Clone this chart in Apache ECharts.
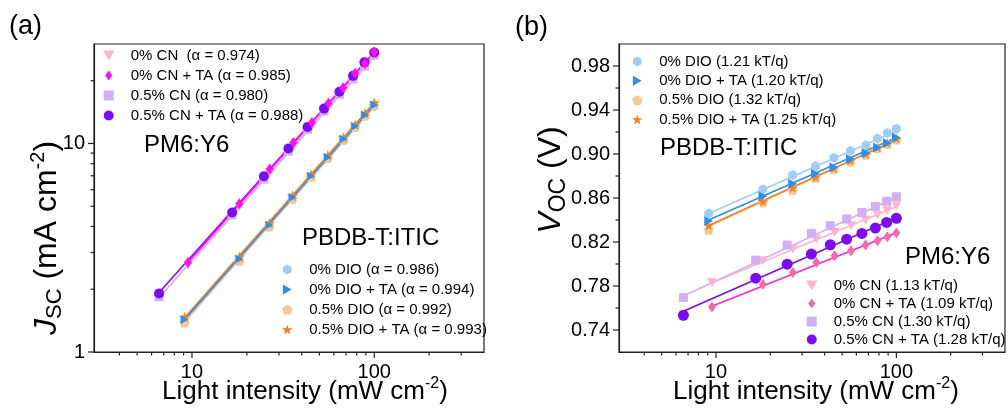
<!DOCTYPE html>
<html><head><meta charset="utf-8">
<script src="https://cdn.jsdelivr.net/npm/echarts@6/dist/echarts.min.js"></script>
<style>html,body{margin:0;padding:0;background:#fff}#c{width:1008px;height:412px}</style>
</head><body><div id="c"></div>
<script>
// ---------- data ----------
const X_CN0  = [9.5, 18.2, 26.7, 36.0, 45.5, 56.0, 67.5, 78.5, 89.0, 100];
const X_CN05 = [6.6, 16.6, 24.8, 33.8, 43.0, 53.0, 64.4, 76.5, 88.3, 100];
const X_ITIC = [9.1, 18.2, 26.6, 35.6, 45.0, 55.6, 67.8, 78.5, 89.0, 100];

const NAMES_A_PM6  = ['0% CN  (\u03b1 = 0.974)', '0% CN + TA (\u03b1 = 0.985)', '0.5% CN (\u03b1 = 0.980)', '0.5% CN + TA (\u03b1 = 0.988)'];
const NAMES_A_ITIC = ['0% DIO (\u03b1 = 0.986)', '0% DIO + TA (\u03b1 = 0.994)', '0.5% DIO (\u03b1 = 0.992)', '0.5% DIO + TA (\u03b1 = 0.993)'];
const NAMES_B_ITIC = ['0% DIO (1.21 kT/q)', '0% DIO + TA (1.20 kT/q)', '0.5% DIO (1.32 kT/q)', '0.5% DIO + TA (1.25 kT/q)'];
const NAMES_B_PM6  = ['0% CN (1.13 kT/q)', '0% CN + TA (1.09 kT/q)', '0.5% CN (1.30 kT/q)', '0.5% CN + TA (1.28 kT/q)'];

// Jsc (mA cm-2)
const JSC_CN0      = [2.60, 4.98, 7.25, 9.70, 12.1, 14.9, 17.8, 20.6, 23.2, 26.0];
const JSC_CN0_TA   = [2.69, 5.14, 7.55, 10.1, 12.6, 15.6, 18.5, 21.7, 24.2, 27.5];
const JSC_CN05     = [1.84, 4.55, 6.75, 9.20, 11.7, 14.3, 17.2, 20.4, 23.5, 26.6];
const JSC_CN05_TA  = [1.91, 4.67, 6.96, 9.46, 12.0, 14.7, 17.7, 21.1, 24.5, 27.3];
const JSC_DIO0     = [1.40, 2.75, 4.00, 5.42, 6.88, 8.45, 10.3, 11.9, 13.5, 15.0];
const JSC_DIO0_TA  = [1.43, 2.79, 4.06, 5.50, 6.98, 8.60, 10.5, 12.1, 13.7, 15.3];
const JSC_DIO05    = [1.38, 2.73, 3.99, 5.42, 6.90, 8.52, 10.4, 12.0, 13.6, 15.2];
const JSC_DIO05_TA = [1.47, 2.86, 4.15, 5.62, 7.12, 8.78, 10.7, 12.3, 14.0, 15.7];
// fitted line end values (first x, last x)
const FIT_JSC_CN0      = [2.60, 26.0];
const FIT_JSC_CN0_TA   = [2.69, 27.5];
const FIT_JSC_CN05     = [1.82, 26.6];
const FIT_JSC_CN05_TA  = [1.93, 27.4];
const FIT_JSC_DIO0     = [1.41, 15.0];
const FIT_JSC_DIO0_TA  = [1.43, 15.3];
const FIT_JSC_DIO05    = [1.39, 15.2];
const FIT_JSC_DIO05_TA = [1.46, 15.7];

// Voc (V)
const VOC_DIO0     = [0.846, 0.868, 0.881, 0.889, 0.8965, 0.903, 0.908, 0.914, 0.919, 0.923];
const VOC_DIO0_TA  = [0.839, 0.8615, 0.873, 0.882, 0.888, 0.8955, 0.901, 0.906, 0.910, 0.915];
const VOC_DIO05    = [0.831, 0.856, 0.867, 0.878, 0.886, 0.893, 0.899, 0.905, 0.909, 0.913];
const VOC_DIO05_TA = [0.835, 0.857, 0.869, 0.879, 0.887, 0.894, 0.900, 0.906, 0.910, 0.914];
const VOC_CN0      = [0.783, 0.803, 0.8135, 0.8226, 0.8287, 0.8348, 0.840, 0.8445, 0.8485, 0.853];
const VOC_CN0_TA   = [0.761, 0.7816, 0.7923, 0.8014, 0.8074, 0.812, 0.8172, 0.8211, 0.8248, 0.8281];
const VOC_CN05     = [0.7695, 0.8035, 0.8172, 0.8278, 0.8348, 0.8409, 0.8469, 0.8524, 0.857, 0.8612];
const VOC_CN05_TA  = [0.7534, 0.7871, 0.7998, 0.809, 0.8175, 0.8226, 0.8278, 0.8327, 0.8378, 0.8415];
const FIT_VOC_DIO0     = [0.846, 0.921];
const FIT_VOC_DIO0_TA  = [0.840, 0.915];
const FIT_VOC_DIO05    = [0.834, 0.913];
const FIT_VOC_DIO05_TA = [0.835, 0.913];
const FIT_VOC_CN0      = [0.783, 0.852];
const FIT_VOC_CN0_TA   = [0.7615, 0.8285];
const FIT_VOC_CN05     = [0.771, 0.861];
const FIT_VOC_CN05_TA  = [0.757, 0.842];

// tick values
const TICK_X_MAJOR = [10, 100];
const TICK_X_MINOR = [4, 5, 6, 7, 8, 9, 20, 30, 40, 50, 60, 70, 80, 90, 200, 300];
const TICK_JSC_MAJOR = [1, 10];
const TICK_JSC_MINOR = [2, 3, 4, 5, 6, 7, 8, 9, 20];
const TICK_VOC_MAJOR = [0.74, 0.78, 0.82, 0.86, 0.90, 0.94, 0.98];
const TICK_VOC_MINOR = [0.76, 0.80, 0.84, 0.88, 0.92, 0.96];

// ---------- styles ----------
const FONT = '"Liberation Sans", Arial, Helvetica, sans-serif';
const AX = '#222';
const SYM_HEX = 'path://M0,-1L0.866,-0.5L0.866,0.5L0,1L-0.866,0.5L-0.866,-0.5Z';
const SYM_PENT = 'path://M0,-1L0.951,-0.309L0.588,0.809L-0.588,0.809L-0.951,-0.309Z';
const SYM_STAR = 'path://M0,-1L0.235,-0.324L0.951,-0.309L0.38,0.124L0.588,0.809L0,0.4L-0.588,0.809L-0.38,0.124L-0.951,-0.309L-0.235,-0.324Z';
const SYM_TRI_DOWN = 'path://M0,0.9L1,-0.85L-1,-0.85Z';
const SYM_TRI_RIGHT = 'path://M0.9,0L-0.85,1L-0.85,-1Z';
const SYM_DIAM = 'path://M0,-1L0.72,0L0,1L-0.72,0Z';
const SYM_RECT = 'path://M-1,-1L1,-1L1,1L-1,1Z';

const C = {
  cn0: '#FFB3CC', cn0taA: '#FF10F0', cn0taB: '#F46AAA', cn0taLine: '#FF22D8',
  cn05: '#D2AEF7', cn05ta: '#7B0CF0',
  dio0: '#9FCDF5', dio0ta: '#2F8FE6', dio05: '#F9C596', dio05ta: '#F5821F'
};

const SPEC_A = [
  {name: NAMES_A_ITIC[0], x: X_ITIC, y: JSC_DIO0, fit: FIT_JSC_DIO0, color: C.dio0, line: C.dio0, sym: SYM_HEX, size: 9},
  {name: NAMES_A_ITIC[2], x: X_ITIC, y: JSC_DIO05, fit: FIT_JSC_DIO05, color: C.dio05, line: C.dio05, sym: SYM_PENT, size: 10},
  {name: NAMES_A_ITIC[3], x: X_ITIC, y: JSC_DIO05_TA, fit: FIT_JSC_DIO05_TA, color: C.dio05ta, line: C.dio05ta, sym: SYM_STAR, size: 11},
  {name: NAMES_A_ITIC[1], x: X_ITIC, y: JSC_DIO0_TA, fit: FIT_JSC_DIO0_TA, color: C.dio0ta, line: C.dio0ta, sym: SYM_TRI_RIGHT, size: 9},
  {name: NAMES_A_PM6[0], x: X_CN0, y: JSC_CN0, fit: FIT_JSC_CN0, color: C.cn0, line: C.cn0, sym: SYM_TRI_DOWN, size: 10},
  {name: NAMES_A_PM6[2], x: X_CN05, y: JSC_CN05, fit: FIT_JSC_CN05, color: C.cn05, line: C.cn05, sym: SYM_RECT, size: 9},
  {name: NAMES_A_PM6[3], x: X_CN05, y: JSC_CN05_TA, fit: FIT_JSC_CN05_TA, color: C.cn05ta, line: C.cn05ta, sym: 'circle', size: 10},
  {name: NAMES_A_PM6[1], x: X_CN0, y: JSC_CN0_TA, fit: FIT_JSC_CN0_TA, color: C.cn0taA, line: C.cn0taA, sym: SYM_DIAM, size: 11}
];
const SPEC_B = [
  {name: NAMES_B_ITIC[0], x: X_ITIC, y: VOC_DIO0, fit: FIT_VOC_DIO0, color: C.dio0, line: C.dio0, sym: SYM_HEX, size: 10},
  {name: NAMES_B_ITIC[2], x: X_ITIC, y: VOC_DIO05, fit: FIT_VOC_DIO05, color: C.dio05, line: C.dio05, sym: SYM_PENT, size: 10},
  {name: NAMES_B_ITIC[3], x: X_ITIC, y: VOC_DIO05_TA, fit: FIT_VOC_DIO05_TA, color: C.dio05ta, line: C.dio05ta, sym: SYM_STAR, size: 10},
  {name: NAMES_B_ITIC[1], x: X_ITIC, y: VOC_DIO0_TA, fit: FIT_VOC_DIO0_TA, color: C.dio0ta, line: C.dio0ta, sym: SYM_TRI_RIGHT, size: 10},
  {name: NAMES_B_PM6[0], x: X_CN0, y: VOC_CN0, fit: FIT_VOC_CN0, color: C.cn0, line: C.cn0, sym: SYM_TRI_DOWN, size: 10},
  {name: NAMES_B_PM6[2], x: X_CN05, y: VOC_CN05, fit: FIT_VOC_CN05, color: C.cn05, line: C.cn05, sym: SYM_RECT, size: 9},
  {name: NAMES_B_PM6[3], x: X_CN05, y: VOC_CN05_TA, fit: FIT_VOC_CN05_TA, color: C.cn05ta, line: C.cn05ta, sym: 'circle', size: 11},
  {name: NAMES_B_PM6[1], x: X_CN0, y: VOC_CN0_TA, fit: FIT_VOC_CN0_TA, color: C.cn0taB, line: C.cn0taLine, sym: SYM_DIAM, size: 11}
];

function buildSeries(spec, axisIdx) {
  const out = [];
  spec.forEach(s => {
    const n = s.x.length - 1;
    out.push({
      type: 'line', name: s.name + ' fit', xAxisIndex: axisIdx, yAxisIndex: axisIdx,
      data: [[s.x[0], s.fit[0]], [s.x[n], s.fit[1]]],
      symbol: 'none', silent: true, z: 2, animation: false,
      lineStyle: {color: s.line, width: 1.6}
    });
  });
  spec.forEach(s => {
    out.push({
      type: 'scatter', name: s.name, xAxisIndex: axisIdx, yAxisIndex: axisIdx,
      data: s.x.map((v, i) => [v, s.y[i]]),
      symbol: s.sym, symbolSize: s.size, symbolKeepAspect: true,
      z: 3, animation: false,
      itemStyle: {color: s.color, opacity: 1}
    });
  });
  return out;
}

function tickSeries(axisIdx, which, values, ref, len) {
  return {
    type: 'custom', xAxisIndex: axisIdx, yAxisIndex: axisIdx, silent: true, clip: false, z: 6, animation: false,
    data: values.map(v => which === 'x' ? [v, ref] : [ref, v]),
    renderItem: function (params, api) {
      const cs = params.coordSys;
      const p = api.coord([api.value(0), api.value(1)]);
      let shape;
      if (which === 'x') {
        const y0 = cs.y + cs.height;
        shape = {x1: p[0], y1: y0, x2: p[0], y2: y0 + len};
      } else {
        const x0 = cs.x;
        shape = {x1: x0, y1: p[1], x2: x0 - len, y2: p[1]};
      }
      return {type: 'line', shape: shape, style: {stroke: AX, lineWidth: 1.2}};
    }
  };
}

const isDecade = v => Math.abs(Math.log10(v) - Math.round(Math.log10(v))) < 1e-6;
const labelStyle = {color: '#000', fontSize: 20, fontFamily: FONT};

function legend(names, left, top, gap, itemWidth, fontSize) {
  return {
    data: names, orient: 'vertical', left: left, top: top, padding: 0,
    itemGap: gap, itemWidth: itemWidth, itemHeight: 10, selectedMode: false,
    symbolKeepAspect: true,
    textStyle: {color: '#000', fontSize: fontSize, fontFamily: FONT, lineHeight: 15, padding: [0, 0, 0, 0]}
  };
}

const series = [].concat(
  buildSeries(SPEC_A, 0),
  buildSeries(SPEC_B, 1),
  [
    tickSeries(0, 'x', TICK_X_MAJOR, 10, 6),
    tickSeries(0, 'x', TICK_X_MINOR, 10, 3.5),
    tickSeries(0, 'y', TICK_JSC_MAJOR, 10, 6),
    tickSeries(0, 'y', TICK_JSC_MINOR, 10, 3.5),
    tickSeries(1, 'x', TICK_X_MAJOR, 0.8, 6),
    tickSeries(1, 'x', TICK_X_MINOR, 0.8, 3.5),
    tickSeries(1, 'y', TICK_VOC_MAJOR, 10, 6),
    tickSeries(1, 'y', TICK_VOC_MINOR, 10, 3.5)
  ]
);

function txt(x, y, text, size, extra) {
  return Object.assign({
    type: 'text', x: x, y: y, silent: true, z: 10,
    style: Object.assign({text: text, fill: '#000', fontSize: size, fontFamily: FONT,
      align: 'left', verticalAlign: 'middle', textAlign: 'left', textVerticalAlign: 'middle'}, extra || {})
  });
}
function richTitle(x, y, text, rotation, size, subRatio) {
  const sr = subRatio || 0.66;
  return {
    type: 'text', x: x, y: y, rotation: rotation || 0, silent: true, z: 10,
    style: {
      text: text, fill: '#000', fontFamily: FONT, fontSize: size,
      align: 'center', verticalAlign: 'middle', textAlign: 'center', textVerticalAlign: 'middle',
      rich: {
        n: {fontSize: size, fontFamily: FONT, fill: '#000', lineHeight: size + 6, verticalAlign: 'middle'},
        i: {fontSize: size, fontFamily: FONT, fontStyle: 'italic', fill: '#000', lineHeight: size + 6, verticalAlign: 'middle'},
        sub: {fontSize: Math.round(size * sr), fontFamily: FONT, fill: '#000', lineHeight: size + 6, verticalAlign: 'bottom'},
        sup: {fontSize: Math.round(size * 0.62), fontFamily: FONT, fill: '#000', lineHeight: size + 6, verticalAlign: 'top'}
      }
    }
  };
}

const option = {
  animation: false,
  backgroundColor: '#fff',
  grid: [
    {left: 94, top: 44, width: 390, height: 308, show: true, borderColor: AX, borderWidth: 1.2, backgroundColor: 'transparent'},
    {left: 619, top: 44, width: 390, height: 308, show: true, borderColor: AX, borderWidth: 1.2, backgroundColor: 'transparent'}
  ],
  xAxis: [
    {type: 'log', logBase: 10, gridIndex: 0, min: 2.9, max: 400,
     axisLine: {lineStyle: {color: AX, width: 1.2}}, axisTick: {show: false}, splitLine: {show: false},
     axisLabel: Object.assign({margin: 10, formatter: v => isDecade(v) ? String(Math.round(v)) : ''}, labelStyle)},
    {type: 'log', logBase: 10, gridIndex: 1, min: 2.9, max: 400,
     axisLine: {lineStyle: {color: AX, width: 1.2}}, axisTick: {show: false}, splitLine: {show: false},
     axisLabel: Object.assign({margin: 10, formatter: v => isDecade(v) ? String(Math.round(v)) : ''}, labelStyle)}
  ],
  yAxis: [
    {type: 'log', logBase: 10, gridIndex: 0, min: 1, max: 30,
     axisLine: {lineStyle: {color: AX, width: 1.2}}, axisTick: {show: false}, splitLine: {show: false},
     axisLabel: Object.assign({margin: 9, formatter: v => isDecade(v) ? String(Math.round(v)) : ''}, labelStyle)},
    {type: 'value', gridIndex: 1, min: 0.72, max: 1.0, interval: 0.02,
     axisLine: {lineStyle: {color: AX, width: 1.2}}, axisTick: {show: false}, splitLine: {show: false},
     axisLabel: Object.assign({margin: 9, formatter: v => {
       const k = Math.round(v * 100);
       return (k >= 74 && k <= 98 && (k - 74) % 4 === 0) ? v.toFixed(2) : '';
     }}, labelStyle)}
  ],
  legend: [
    legend(NAMES_A_PM6, 103, 48, 5, 34, 15),
    legend(NAMES_A_ITIC, 282, 262, 5, 34, 15),
    legend(NAMES_B_ITIC, 632, 54, 4.3, 34, 15),
    legend(NAMES_B_PM6, 806, 278, 3, 34, 15)
  ],
  graphic: [
    txt(9, 27, '(a)', 27),
    txt(515, 28, '(b)', 27),
    txt(144, 145, 'PM6:Y6', 24),
    txt(302, 238, 'PBDB-T:ITIC', 24),
    txt(660, 148, 'PBDB-T:ITIC', 24),
    txt(905, 257, 'PM6:Y6', 24),
    richTitle(305, 392, '{n|Light intensity (mW cm}{sup|-2}{n|)}', 0, 26),
    richTitle(816, 392, '{n|Light intensity (mW cm}{sup|-2}{n|)}', 0, 26),
    richTitle(47, 238, '{i|J}{sub|SC}{n| (mA cm}{sup|-2}{n|)}', Math.PI / 2, 32, 0.7),
    richTitle(551, 180, '{i|V}{sub|OC}{n| (V)}', Math.PI / 2, 32, 0.72)
  ],
  series: series
};

const chart = echarts.init(document.getElementById('c'), null, {renderer: 'canvas'});
chart.setOption(option);
</script></body></html>
